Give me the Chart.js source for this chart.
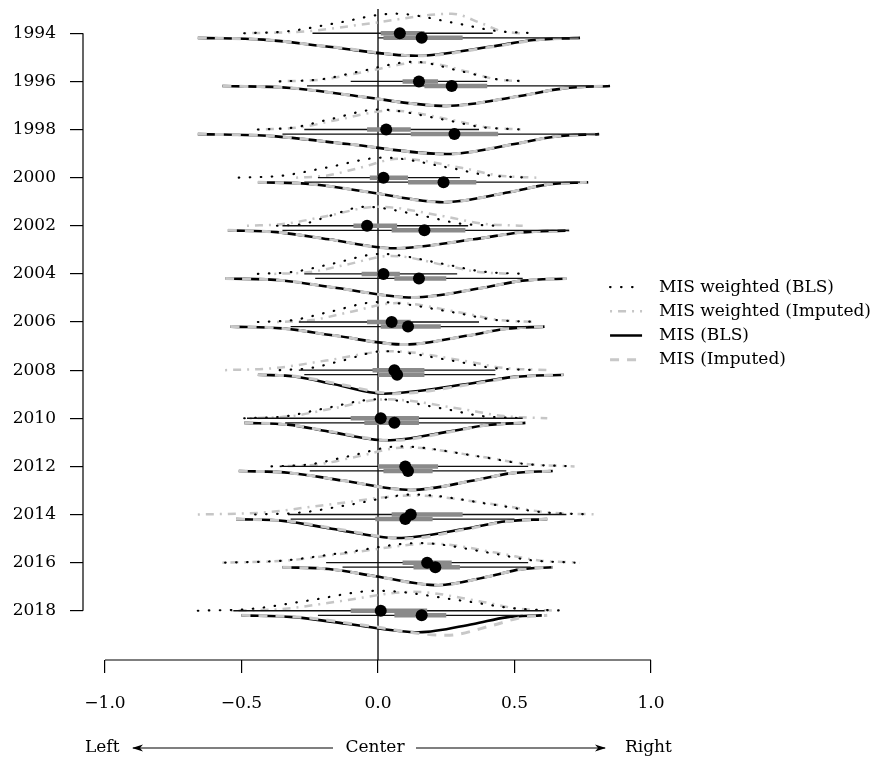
<!DOCTYPE html>
<html><head><meta charset="utf-8">
<script src="https://cdn.jsdelivr.net/npm/chart.js@4.4.1/dist/chart.umd.min.js"></script>
<style>html,body{margin:0;padding:0;background:#fff}canvas{display:block}</style>
</head><body>
<canvas id="c" width="880" height="762" style="width:880px;height:762px"></canvas>
<script>
// ---------------- data ----------------
const years = [1994,1996,1998,2000,2002,2004,2006,2008,2010,2012,2014,2016,2018];
const xTicks = [-1, -0.5, 0, 0.5, 1];
const seriesNames = ['MIS weighted (BLS)','MIS weighted (Imputed)','MIS (BLS)','MIS (Imputed)'];
const sideLabels = ['Left','Center','Right'];

// density knots (x positions) and relative density heights, per year
const wbX = [
[-0.49,-0.33,-0.16,0.06,0.29,0.43,0.57],
[-0.36,-0.21,-0.07,0.13,0.31,0.43,0.54],
[-0.44,-0.31,-0.18,0.00,0.24,0.38,0.53],
[-0.51,-0.35,-0.19,0.02,0.26,0.40,0.55],
[-0.37,-0.27,-0.18,-0.05,0.17,0.30,0.43],
[-0.44,-0.31,-0.17,0.01,0.24,0.38,0.53],
[-0.44,-0.31,-0.18,0.00,0.27,0.42,0.59],
[-0.36,-0.25,-0.13,0.02,0.27,0.42,0.58],
[-0.49,-0.34,-0.20,0.00,0.24,0.38,0.53],
[-0.39,-0.25,-0.11,0.08,0.37,0.54,0.72],
[-0.45,-0.28,-0.10,0.13,0.42,0.60,0.78],
[-0.56,-0.35,-0.13,0.15,0.41,0.56,0.72],
[-0.66,-0.46,-0.26,0.00,0.31,0.50,0.69]];
const wbH = [
[0,0.1,0.49,0.98,0.49,0.12,0],
[0,0.1,0.49,0.98,0.49,0.12,0],
[0,0.1,0.5,1,0.5,0.12,0],
[0,0.1,0.5,1,0.5,0.12,0],
[0,0.1,0.48,0.95,0.48,0.11,0],
[0,0.1,0.5,1,0.5,0.12,0],
[0,0.1,0.5,1,0.5,0.12,0],
[0,0.1,0.48,0.95,0.48,0.11,0],
[0,0.1,0.48,0.95,0.48,0.11,0],
[0,0.1,0.5,1,0.5,0.12,0],
[0,0.1,0.5,1,0.5,0.12,0],
[0,0.1,0.49,0.98,0.49,0.12,0],
[0,0.1,0.5,1,0.5,0.12,0]];
const wiX = [
[-0.49,-0.26,-0.03,0.27,0.38,0.45,0.52],
[-0.36,-0.20,-0.05,0.16,0.33,0.43,0.54],
[-0.44,-0.29,-0.15,0.05,0.27,0.40,0.53],
[-0.30,-0.19,-0.07,0.08,0.31,0.44,0.58],
[-0.48,-0.34,-0.19,0.00,0.24,0.38,0.53],
[-0.38,-0.25,-0.12,0.05,0.24,0.36,0.48],
[-0.37,-0.24,-0.11,0.07,0.30,0.44,0.58],
[-0.56,-0.38,-0.19,0.05,0.31,0.46,0.62],
[-0.47,-0.32,-0.17,0.03,0.30,0.46,0.62],
[-0.36,-0.22,-0.08,0.10,0.38,0.55,0.72],
[-0.66,-0.42,-0.19,0.13,0.44,0.62,0.81],
[-0.57,-0.34,-0.11,0.20,0.44,0.59,0.74],
[-0.54,-0.34,-0.14,0.13,0.37,0.51,0.66]];
const wiH = [
[0,0.1,0.49,0.98,0.49,0.12,0],
[0,0.1,0.48,0.95,0.48,0.11,0],
[0,0.1,0.48,0.95,0.48,0.11,0],
[0,0.1,0.48,0.95,0.48,0.11,0],
[0,0.1,0.48,0.95,0.48,0.11,0],
[0,0.09,0.45,0.9,0.45,0.11,0],
[0,0.1,0.48,0.95,0.48,0.11,0],
[0,0.1,0.48,0.95,0.48,0.11,0],
[0,0.1,0.48,0.95,0.48,0.11,0],
[0,0.1,0.48,0.95,0.48,0.11,0],
[0,0.1,0.48,0.95,0.48,0.11,0],
[0,0.1,0.48,0.95,0.48,0.11,0],
[0,0.1,0.48,0.95,0.48,0.11,0]];
const ubX = [
[-0.66,-0.42,-0.18,0.14,0.41,0.57,0.74],
[-0.57,-0.32,-0.08,0.25,0.52,0.68,0.85],
[-0.66,-0.39,-0.11,0.25,0.50,0.65,0.81],
[-0.44,-0.24,-0.03,0.24,0.48,0.62,0.77],
[-0.55,-0.37,-0.18,0.06,0.35,0.52,0.70],
[-0.56,-0.35,-0.15,0.13,0.38,0.53,0.69],
[-0.54,-0.35,-0.16,0.10,0.33,0.47,0.61],
[-0.44,-0.30,-0.16,0.02,0.32,0.50,0.68],
[-0.49,-0.33,-0.18,0.03,0.26,0.40,0.54],
[-0.51,-0.32,-0.13,0.12,0.35,0.49,0.64],
[-0.52,-0.34,-0.17,0.07,0.32,0.47,0.62],
[-0.35,-0.18,-0.01,0.22,0.41,0.52,0.64],
[-0.50,-0.31,-0.11,0.15,0.35,0.47,0.60]];
const ubH = [
[0,0.09,0.45,0.9,0.45,0.11,0],
[0,0.1,0.5,1,0.5,0.12,0],
[0,0.1,0.5,1,0.5,0.12,0],
[0,0.1,0.5,1,0.5,0.12,0],
[0,0.09,0.45,0.9,0.45,0.11,0],
[0,0.1,0.48,0.95,0.48,0.11,0],
[0,0.09,0.45,0.9,0.45,0.11,0],
[0,0.1,0.48,0.95,0.48,0.11,0],
[0,0.09,0.44,0.88,0.44,0.11,0],
[0,0.1,0.48,0.95,0.48,0.11,0],
[0,0.1,0.48,0.95,0.48,0.11,0],
[0,0.09,0.45,0.9,0.45,0.11,0],
[0,0.09,0.43,0.85,0.43,0.1,0]];
const uiX = [
[-0.66,-0.42,-0.17,0.15,0.42,0.58,0.74],
[-0.57,-0.32,-0.08,0.25,0.52,0.68,0.85],
[-0.66,-0.39,-0.11,0.25,0.50,0.65,0.81],
[-0.44,-0.24,-0.03,0.24,0.48,0.62,0.77],
[-0.55,-0.37,-0.18,0.06,0.35,0.52,0.70],
[-0.56,-0.35,-0.15,0.13,0.38,0.53,0.69],
[-0.54,-0.35,-0.16,0.10,0.33,0.47,0.61],
[-0.44,-0.29,-0.14,0.06,0.34,0.51,0.68],
[-0.49,-0.33,-0.17,0.05,0.27,0.40,0.54],
[-0.51,-0.32,-0.13,0.12,0.35,0.49,0.64],
[-0.52,-0.33,-0.15,0.10,0.33,0.47,0.62],
[-0.35,-0.18,-0.01,0.22,0.41,0.52,0.64],
[-0.50,-0.28,-0.05,0.25,0.42,0.52,0.62]];
const uiH = [
[0,0.09,0.45,0.9,0.45,0.11,0],
[0,0.1,0.5,1,0.5,0.12,0],
[0,0.1,0.5,1,0.5,0.12,0],
[0,0.1,0.5,1,0.5,0.12,0],
[0,0.09,0.45,0.9,0.45,0.11,0],
[0,0.1,0.48,0.95,0.48,0.11,0],
[0,0.09,0.45,0.9,0.45,0.11,0],
[0,0.1,0.48,0.95,0.48,0.11,0],
[0,0.09,0.44,0.88,0.44,0.11,0],
[0,0.1,0.48,0.95,0.48,0.11,0],
[0,0.1,0.49,0.98,0.49,0.12,0],
[0,0.09,0.45,0.9,0.45,0.11,0],
[0,0.1,0.5,1,0.5,0.12,0]];

// interval summaries: weighted (upper) and unweighted (lower)
const wRange = [[-0.24,0.42],[-0.10,0.40],[-0.27,0.37],[-0.22,0.30],[-0.35,0.33],[-0.27,0.29],[-0.29,0.37],[-0.29,0.43],[-0.48,0.53],[-0.36,0.55],[-0.33,0.69],[-0.19,0.55],[-0.53,0.61]];
const wIqr   = [[0.01,0.17],[0.09,0.22],[-0.04,0.12],[-0.03,0.11],[-0.09,0.07],[-0.06,0.08],[-0.04,0.12],[-0.02,0.17],[-0.10,0.15],[0.00,0.22],[0.05,0.31],[0.09,0.27],[-0.10,0.18]];
const wMid   = [0.08,0.15,0.03,0.02,-0.04,0.02,0.05,0.06,0.01,0.10,0.12,0.18,0.01];
const uRange = [[0.00,0.74],[-0.26,0.79],[-0.35,0.81],[-0.27,0.74],[-0.35,0.70],[-0.23,0.53],[-0.32,0.55],[-0.27,0.43],[-0.34,0.45],[-0.25,0.47],[-0.32,0.50],[-0.13,0.56],[-0.22,0.53]];
const uIqr   = [[0.02,0.31],[0.17,0.40],[0.12,0.44],[0.11,0.36],[0.05,0.32],[0.06,0.25],[0.01,0.23],[0.00,0.17],[-0.05,0.15],[0.02,0.20],[-0.01,0.20],[0.13,0.30],[0.06,0.25]];
const uMid   = [0.16,0.27,0.28,0.24,0.17,0.15,0.11,0.07,0.06,0.11,0.10,0.21,0.16];

// ---------------- layout / style constants ----------------
const FONT = "'DejaVu Serif', serif";
const X_MIN = -1.0806, X_MAX = 1.8022;
const Y_MIN = 1992.867, Y_MAX = 2020.046;
const DENS = 0.83;      // year-units per unit density
const LOW = 0.19;       // offset of the lower (unweighted) baseline
const ZERO_TOP = 1992.99;

const styles = [
  {borderColor:'#000', borderWidth:2.2, borderDash:[0.5,10.5], borderCapStyle:'round', order:3},
  {borderColor:'#c6c6c6', borderWidth:2.5, borderDash:[2,6,8,6], borderCapStyle:'butt', order:4},
  {borderColor:'#000', borderWidth:2.6, borderDash:[], borderCapStyle:'butt', order:6},
  {borderColor:'#c8c8c8', borderWidth:3, borderDash:[9,8], borderCapStyle:'butt', order:5}
];

const datasets = [];
datasets.push({data:[{x:0,y:ZERO_TOP},{x:0,y:Y_MAX}], borderColor:'#000', borderWidth:1.3, pointRadius:0, order:20});

const sets = [[wbX,wbH,-1,0],[wiX,wiH,-1,0],[ubX,ubH,1,LOW],[uiX,uiH,1,LOW]];
sets.forEach((s, k) => {
  const [xs, hs, sign, off] = s;
  years.forEach((yr, i) => {
    datasets.push(Object.assign({
      data: xs[i].map((x, j) => ({x, y: yr + off + sign * hs[i][j] * DENS})),
      pointRadius: 0, fill: false, cubicInterpolationMode: 'monotone'
    }, styles[k]));
  });
});

function segs(ranges, off) {
  const d = [];
  ranges.forEach((r, i) => { d.push({x:r[0], y:years[i]+off}, {x:r[1], y:years[i]+off}, {x:r[1], y:null}); });
  return d;
}
datasets.push({data: segs(wRange, 0), borderColor:'#111', borderWidth:1.3, pointRadius:0, spanGaps:false, order:2});
datasets.push({data: segs(uRange, LOW), borderColor:'#111', borderWidth:1.3, pointRadius:0, spanGaps:false, order:2});
datasets.push({data: segs(wIqr, 0), borderColor:'#8a8a8a', borderWidth:4.5, pointRadius:0, spanGaps:false, order:1});
datasets.push({data: segs(uIqr, LOW), borderColor:'#8a8a8a', borderWidth:4.5, pointRadius:0, spanGaps:false, order:1});
datasets.push({data: wMid.map((m,i)=>({x:m, y:years[i]})), showLine:false, pointRadius:6, pointBackgroundColor:'#000', pointBorderWidth:0, order:0});
datasets.push({data: uMid.map((m,i)=>({x:m, y:years[i]+LOW})), showLine:false, pointRadius:6, pointBackgroundColor:'#000', pointBorderWidth:0, order:0});

// ---------------- plugins ----------------
const rAxes = {
  id: 'rAxes',
  afterDraw(chart) {
    const {ctx, chartArea, scales} = chart;
    const xs = scales.x, ys = scales.y;
    ctx.save();
    ctx.strokeStyle = '#000'; ctx.lineWidth = 1.2;
    ctx.beginPath();
    ctx.moveTo(xs.getPixelForValue(xTicks[0]), chartArea.bottom);
    ctx.lineTo(xs.getPixelForValue(xTicks[xTicks.length-1]), chartArea.bottom);
    ctx.moveTo(chartArea.left, ys.getPixelForValue(years[0]));
    ctx.lineTo(chartArea.left, ys.getPixelForValue(years[years.length-1]));
    ctx.stroke();

    // legend
    const lx = xs.getPixelForValue(0.85), ty = ys.getPixelForValue(2004.55);
    ctx.font = '17px ' + FONT; ctx.fillStyle = '#000'; ctx.textBaseline = 'middle'; ctx.textAlign = 'left';
    seriesNames.forEach((name, i) => {
      const y = ty + i * 24.2;
      const st = styles[i];
      ctx.save();
      ctx.strokeStyle = st.borderColor; ctx.lineWidth = st.borderWidth;
      ctx.setLineDash(st.borderDash); ctx.lineCap = st.borderCapStyle;
      ctx.beginPath(); ctx.moveTo(lx, y); ctx.lineTo(lx + 32, y); ctx.stroke();
      ctx.restore();
      ctx.fillText(name, lx + 49, y);
    });

    // direction annotation
    const by = chartArea.bottom + 88;
    const p0 = xs.getPixelForValue(0), pl = xs.getPixelForValue(-1), pr = xs.getPixelForValue(1);
    ctx.textAlign = 'left'; ctx.fillText(sideLabels[0], pl - 20, by);
    ctx.textAlign = 'center'; ctx.fillText(sideLabels[1], p0 - 3, by);
    ctx.textAlign = 'left'; ctx.fillText(sideLabels[2], pr - 26, by);
    ctx.lineWidth = 1.1;
    ctx.beginPath();
    ctx.moveTo(pl + 28, by); ctx.lineTo(p0 - 45, by);
    ctx.moveTo(p0 + 38, by); ctx.lineTo(pr - 46, by);
    ctx.stroke();
    function head(x, y, dir) {
      ctx.beginPath();
      ctx.moveTo(x, y); ctx.lineTo(x - dir*11, y - 3.5); ctx.lineTo(x - dir*8, y); ctx.lineTo(x - dir*11, y + 3.5);
      ctx.closePath(); ctx.fill();
    }
    head(pl + 27, by, -1);
    head(pr - 45, by, 1);
    ctx.restore();
  }
};

Chart.defaults.font.family = FONT;
Chart.defaults.font.size = 17;
Chart.defaults.color = '#000';

new Chart(document.getElementById('c'), {
  type: 'line',
  data: { datasets },
  options: {
    responsive: false, animation: false, events: [],
    layout: { padding: { left: 12, right: 10, top: 0, bottom: 42 } },
    plugins: { legend: { display: false }, tooltip: { enabled: false } },
    scales: {
      x: {
        type: 'linear', min: X_MIN, max: X_MAX,
        afterBuildTicks: s => { s.ticks = xTicks.map(v => ({value: v})); },
        afterFit: s => { s.height = 60; s.paddingLeft = 0; s.paddingRight = 0; },
        border: { display: false },
        grid: { drawOnChartArea: false, drawTicks: true, tickLength: 13, color: '#000', lineWidth: 1.2 },
        ticks: { padding: 20, maxRotation: 0, autoSkip: false, font: {size: 17},
          callback: v => (v < 0 ? '\u2212' : '') + Math.abs(v).toFixed(1) }
      },
      y: {
        type: 'linear', reverse: true, min: Y_MIN, max: Y_MAX,
        afterBuildTicks: s => { s.ticks = years.map(v => ({value: v})); },
        afterFit: s => { s.width = 71; s.paddingTop = 0; s.paddingBottom = 0; },
        border: { display: false },
        grid: { drawOnChartArea: false, drawTicks: true, tickLength: 13, color: '#000', lineWidth: 1.2 },
        ticks: { padding: 14, autoSkip: false, font: {size: 17}, callback: v => String(v) }
      }
    }
  },
  plugins: [rAxes]
});
</script>
</body></html>
